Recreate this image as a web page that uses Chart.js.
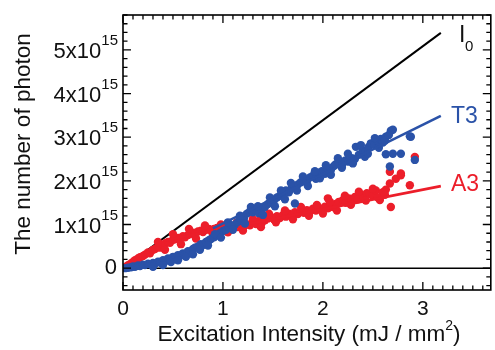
<!DOCTYPE html>
<html>
<head>
<meta charset="utf-8">
<script src="https://cdn.jsdelivr.net/npm/chart.js@4.4.1/dist/chart.umd.min.js"></script>
<style>
html,body{margin:0;padding:0;background:#fff}
</style>
</head>
<body>
<canvas id="chart" width="495" height="350"></canvas>
<script>
// values in units of 1e15 photons, x in mJ/mm2
const xRange=[0,3.68];
const yRange=[-0.5,5.8];
const xTicks=[0,1,2,3];
const yTicks=[0,1,2,3,4,5];

const t3Points=[
[0.02,0.00],[0.05,0.01],[0.08,0.02],[0.10,0.04],[0.12,0.03],[0.15,0.06],[0.17,0.05],
[0.20,0.08],[0.22,0.07],[0.25,0.10],[0.27,0.09],[0.30,0.12],[0.32,0.10],[0.35,0.15],
[0.37,0.13],[0.40,0.18],[0.42,0.16],[0.45,0.22],[0.47,0.20],[0.50,0.26],[0.52,0.24],
[0.55,0.30],[0.57,0.28],[0.60,0.34],[0.62,0.32],[0.65,0.39],[0.67,0.37],[0.70,0.44],
[0.72,0.47],[0.75,0.50],[0.78,0.55],[0.80,0.53],[0.83,0.60],[0.86,0.64],[0.88,0.67],
[0.91,0.71],[0.94,0.75],[0.97,0.80],[1.00,0.85],[1.03,0.88],[1.06,0.93],[1.09,0.96],
[1.12,1.00],[1.15,1.06],[1.18,1.10],[1.21,1.14],[1.24,1.25],[1.27,1.30],[1.30,1.28],
[1.33,1.32],[1.36,1.26],[1.39,1.35],[1.42,1.40],[1.45,1.47],[1.48,1.52],[1.51,1.55],
[1.54,1.62],[1.57,1.66],[1.60,1.70],[1.63,1.78],[1.66,1.74],[1.69,1.84],[1.72,1.48],
[1.72,1.88],[1.75,1.92],[1.78,1.97],[1.81,2.02],[1.84,1.98],[1.87,2.08],[1.90,2.12],
[1.93,2.05],[1.96,2.18],[1.99,2.22],[2.02,2.16],[2.05,2.28],[2.08,2.25],[2.11,2.34],
[2.13,2.38],[2.16,2.42],[2.20,2.40],[2.22,2.46],[2.26,2.44],[2.29,2.52],[2.32,2.50],
[2.33,2.78],[2.36,2.60],[2.40,2.70],[2.42,2.55],[2.43,2.66],[2.46,2.78],[2.48,2.86],
[2.50,2.86],[2.52,2.82],[2.55,2.90],[2.58,2.96],[2.60,2.88],[2.63,3.01],[2.68,3.15],
[2.70,3.17],[2.87,3.02],[2.88,3.01],[2.63,2.61],[2.70,2.62],[2.78,2.62],[2.92,2.48],
[2.67,2.33],
[0.30,0.03],[0.40,0.07],[0.48,0.14],[0.55,0.18],[0.63,0.26],[0.70,0.32],[0.77,0.42],
[0.85,0.52],[0.92,0.78],[0.98,0.70],[1.05,1.05],[1.10,0.88],[1.17,1.20],[1.22,1.02],
[1.28,1.40],[1.35,1.42],[1.40,1.22],[1.47,1.62],[1.52,1.42],[1.58,1.78],[1.62,1.58],
[1.68,1.95],[1.74,1.78],[1.80,2.10],[1.85,1.88],[1.92,2.22],[1.97,2.06],[2.03,2.36],
[2.08,2.14],[2.15,2.52],[2.19,2.30],[2.25,2.62],[2.30,2.40],[2.38,2.82],[2.45,2.62],
[2.52,2.98],[2.56,2.76],[2.62,2.92],[2.66,3.05]
];

const a3Points=[
[0.02,0.02],[0.05,0.07],[0.08,0.11],[0.10,0.14],[0.12,0.18],[0.15,0.22],[0.17,0.25],
[0.20,0.28],[0.22,0.31],[0.25,0.36],[0.27,0.34],[0.30,0.42],[0.32,0.44],[0.35,0.49],
[0.37,0.47],[0.40,0.54],[0.42,0.56],[0.45,0.60],[0.47,0.58],[0.50,0.65],[0.52,0.66],
[0.55,0.69],[0.57,0.67],[0.60,0.73],[0.62,0.71],[0.65,0.76],[0.67,0.78],[0.70,0.81],
[0.72,0.79],[0.75,0.84],[0.78,0.86],[0.80,0.83],[0.83,0.88],[0.86,0.90],[0.88,0.86],
[0.91,0.90],[0.94,0.92],[0.97,0.88],[1.00,0.93],[1.03,0.90],[1.06,0.95],[1.09,0.92],
[1.12,0.97],[1.15,0.94],[1.18,0.99],[1.21,0.96],[1.24,1.01],[1.27,0.98],[1.30,1.04],
[1.33,1.01],[1.36,1.08],[1.39,1.04],[1.42,1.10],[1.45,1.14],[1.48,1.17],[1.51,1.12],
[1.54,1.19],[1.57,1.15],[1.60,1.22],[1.63,1.18],[1.66,1.25],[1.69,1.21],[1.72,1.28],
[1.75,1.24],[1.78,1.30],[1.81,1.27],[1.84,1.33],[1.87,1.29],[1.90,1.36],[1.93,1.32],
[1.96,1.38],[1.99,1.34],[2.02,1.41],[2.05,1.60],[2.05,1.37],[2.08,1.44],[2.10,1.40],
[2.13,1.47],[2.16,1.52],[2.20,1.56],[2.23,1.50],[2.26,1.60],[2.29,1.55],[2.32,1.63],
[2.35,1.58],[2.38,1.68],[2.41,1.62],[2.44,1.72],[2.47,1.70],[2.50,1.66],[2.53,1.78],
[2.57,1.56],[2.60,1.74],[2.63,1.80],[2.68,1.40],[2.67,1.94],[2.67,2.21],[2.73,2.05],
[2.78,2.13],[2.78,2.17],[2.87,1.90],[2.92,2.55],
[0.35,0.60],[0.42,0.42],[0.50,0.78],[0.58,0.55],[0.66,0.90],[0.73,0.68],[0.82,0.98],
[0.90,0.78],[0.98,1.00],[1.05,0.82],[1.14,1.05],[1.20,0.86],[1.30,1.12],[1.38,0.94],
[1.46,1.25],[1.53,1.05],[1.62,1.32],[1.70,1.12],[1.78,1.40],[1.86,1.20],[1.94,1.45],
[2.00,1.25],[2.07,1.52],[2.14,1.32],[2.22,1.66],[2.28,1.45],[2.36,1.75],[2.43,1.55],
[2.50,1.82],[2.55,1.62],[2.62,1.68]
];

const i0Line=[[0,0],[3.18,5.39]];
const t3Line=[[0.90,0.91],[3.18,3.49]];
const a3Line=[[0.40,0.63],[3.18,1.88]];
const zeroLine=[[xRange[0],0],[xRange[1],0]];

const blue="rgb(42,82,168)";
const red="rgb(236,30,42)";
const font="'Liberation Sans', Arial, sans-serif";

function pts(list){
return list.map(p=>({x:p[0],y:p[1]}));
}

const frame={
id:"frame",
afterDraw(chart){
const ctx=chart.ctx;
const a=chart.chartArea;
const xs=chart.scales.x;
const ys=chart.scales.y;

ctx.save();
ctx.strokeStyle="#000";
ctx.lineWidth=1.6;
ctx.strokeRect(a.left,a.top,a.right-a.left,a.bottom-a.top);

// inward ticks on all four sides
ctx.lineWidth=1.3;
ctx.beginPath();
for(let i=0;i<=36;i++){
const px=xs.getPixelForValue(i/10);
const len=(i%10==0)?8:4.5;
ctx.moveTo(px,a.bottom);ctx.lineTo(px,a.bottom-len);
ctx.moveTo(px,a.top);ctx.lineTo(px,a.top+len);
}
for(let i=-2;i<=29;i++){
const py=ys.getPixelForValue(i/5);
const len=(i%5==0)?8:4.5;
ctx.moveTo(a.left,py);ctx.lineTo(a.left+len,py);
ctx.moveTo(a.right,py);ctx.lineTo(a.right-len,py);
}
ctx.stroke();

ctx.fillStyle="#111";
ctx.font="21px "+font;
ctx.textAlign="center";
ctx.textBaseline="middle";
xTicks.forEach(v=>{
ctx.fillText(String(v),xs.getPixelForValue(v),309);
});

yTicks.forEach(v=>{
const py=ys.getPixelForValue(v);
if(v==0){
ctx.font="22px "+font;
ctx.textAlign="right";
ctx.fillText("0",117,py);
return;
}
ctx.font="15px "+font;
ctx.textAlign="right";
const supW=ctx.measureText("15").width;
ctx.fillText("15",118,py-9);
ctx.font="22px "+font;
ctx.fillText(v+"x10",118-supW,py+2);
});

// axis titles
const xTitle="Excitation Intensity (mJ / mm";
ctx.font="22.5px "+font;
const w=ctx.measureText(xTitle).width;
ctx.font="14px "+font;
const w2=ctx.measureText("2").width;
ctx.font="22.5px "+font;
const w3=ctx.measureText(")").width;
const x0=309-(w+w2+w3)/2;
ctx.textAlign="left";
ctx.fillText(xTitle,x0,335);
ctx.font="14px "+font;
ctx.fillText("2",x0+w,326);
ctx.font="22.5px "+font;
ctx.fillText(")",x0+w+w2,335);

ctx.save();
ctx.translate(24,144);
ctx.rotate(-Math.PI/2);
ctx.textAlign="center";
ctx.fillText("The number of photon",0,0);
ctx.restore();

// series labels
ctx.textAlign="left";
ctx.font="23px "+font;
ctx.fillStyle="#111";
ctx.fillText("I",459,36);
ctx.font="15px "+font;
ctx.fillText("0",465,47);
ctx.font="23px "+font;
ctx.fillStyle=blue;
ctx.fillText("T3",451,117);
ctx.fillStyle=red;
ctx.fillText("A3",451,185);
ctx.restore();
}
};

new Chart(document.getElementById("chart"),{
type:"scatter",
data:{
datasets:[
{data:pts(t3Line),showLine:true,borderColor:blue,borderWidth:2.6,pointRadius:0,order:0},
{data:pts(t3Points),backgroundColor:blue,borderWidth:0,pointRadius:4.2,order:1},
{data:pts(a3Line),showLine:true,borderColor:red,borderWidth:2.6,pointRadius:0,order:2},
{data:pts(a3Points),backgroundColor:red,borderWidth:0,pointRadius:4.2,order:3},
{data:pts(i0Line),showLine:true,borderColor:"#000",borderWidth:2,pointRadius:0,order:4},
{data:pts(zeroLine),showLine:true,borderColor:"#000",borderWidth:1.5,pointRadius:0,order:5}
]
},
plugins:[frame],
options:{
responsive:false,
animation:false,
layout:{padding:{left:123,right:3,top:15,bottom:60}},
plugins:{legend:{display:false},tooltip:{enabled:false}},
scales:{
x:{type:"linear",min:xRange[0],max:xRange[1],display:false},
y:{type:"linear",min:yRange[0],max:yRange[1],display:false}
}
}
});
</script>
</body>
</html>
